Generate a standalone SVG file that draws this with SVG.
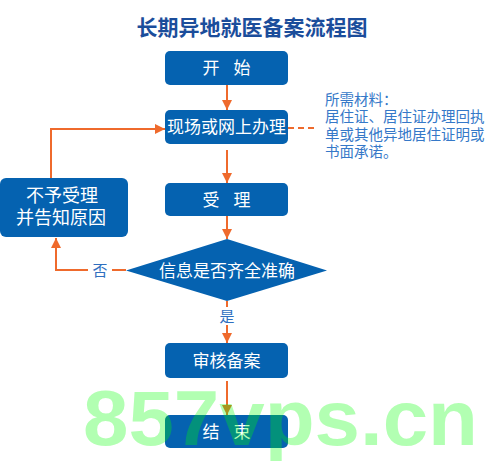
<svg xmlns="http://www.w3.org/2000/svg" width="495" height="463" viewBox="0 0 495 463">
<defs>
<marker id="ah" markerUnits="userSpaceOnUse" markerWidth="12" markerHeight="12" refX="10" refY="5" orient="auto">
<path d="M0,0 L10,5 L0,10 Z" fill="#ef6a2c"/>
</marker>
<style>
.box{fill:#0562b0;}
.bt{fill:#ffffff;font-family:"Noto Sans CJK SC","Noto Sans",sans-serif;font-size:17px;text-anchor:middle;}
.ln{stroke:#ef6a2c;stroke-width:2;fill:none;}
.lbl{fill:#2f6fbf;font-family:"Noto Sans CJK SC","Noto Sans",sans-serif;font-size:15px;text-anchor:middle;}
.note{fill:#3578c8;font-family:"Noto Sans CJK SC","Noto Sans",sans-serif;font-size:14.5px;}
</style>
</defs>
<rect width="495" height="463" fill="#ffffff"/>
<text x="252" y="35" fill="#1b4d9b" font-family="'Noto Sans CJK SC','Noto Sans',sans-serif" font-size="21" font-weight="bold" text-anchor="middle">长期异地就医备案流程图</text>

<g id="connectors">
<line class="ln" x1="227" y1="85" x2="227" y2="110" marker-end="url(#ah)"/>
<line class="ln" x1="227" y1="150" x2="227" y2="183" marker-end="url(#ah)"/>
<line class="ln" x1="227" y1="216" x2="227" y2="239" marker-end="url(#ah)"/>
<line class="ln" x1="227" y1="301" x2="227" y2="307"/>
<line class="ln" x1="227" y1="325" x2="227" y2="343" marker-end="url(#ah)"/>
<line class="ln" x1="227" y1="381" x2="227" y2="415" marker-end="url(#ah)"/>
<polyline class="ln" points="51,178 51,129 165,129" marker-end="url(#ah)"/>
<line class="ln" x1="126" y1="270" x2="112" y2="270"/>
<polyline class="ln" points="88,270 56,270 56,238" marker-end="url(#ah)"/>
<line class="ln" x1="288" y1="128" x2="316" y2="128" stroke-dasharray="6 4"/>
<text class="lbl" x="100" y="276">否</text>
<text class="lbl" x="227" y="322">是</text>
</g>

<g id="start">
<rect class="box" x="165" y="51" width="123" height="34" rx="5"/>
<text class="bt" x="226.5" y="74" style="word-spacing:10px">开 始</text>
</g>
<g id="apply">
<rect class="box" x="165" y="110" width="123" height="34" rx="5"/>
<text class="bt" x="226.5" y="133">现场或网上办理</text>
</g>
<g id="note">
<text class="note" x="325" y="105">所需材料：</text>
<text class="note" x="325" y="122">居住证、居住证办理回执</text>
<text class="note" x="325" y="140">单或其他异地居住证明或</text>
<text class="note" x="325" y="157">书面承诺。</text>
</g>
<g id="accept">
<rect class="box" x="165" y="183" width="123" height="33" rx="5"/>
<text class="bt" x="226.5" y="206" style="word-spacing:10px">受 理</text>
</g>
<g id="reject">
<rect class="box" x="0" y="178" width="128" height="59" rx="6"/>
<text class="bt" x="62" y="202" style="font-size:18px">不予受理</text>
<text class="bt" x="61" y="224" style="font-size:18px">并告知原因</text>
</g>
<g id="check">
<polygon class="box" points="227,239 327,270.5 227,301 126,270.5"/>
<text class="bt" x="227" y="277">信息是否齐全准确</text>
</g>
<g id="record">
<rect class="box" x="165" y="343" width="123" height="35" rx="5"/>
<text class="bt" x="226.5" y="367">审核备案</text>
</g>
<g id="end">
<rect class="box" x="165" y="415" width="123" height="33" rx="5"/>
<text class="bt" x="226.5" y="438" style="word-spacing:10px">结 束</text>
</g>
<text x="83" y="445" fill="#00ff00" fill-opacity="0.3" font-family="'Liberation Sans',sans-serif" font-size="78" font-weight="bold" textLength="395" lengthAdjust="spacingAndGlyphs">857vps.cn</text>
</svg>
